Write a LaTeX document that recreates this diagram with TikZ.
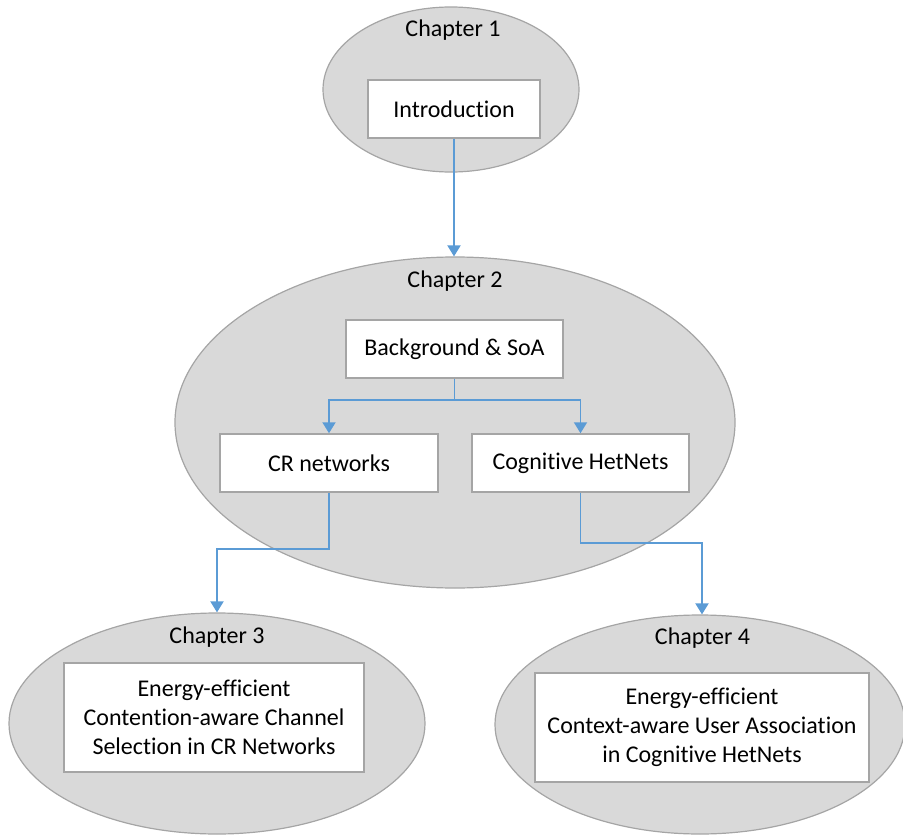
\documentclass[tikz,border=0pt]{standalone}
\usepackage{fontspec}
\setmainfont{Carlito}[Ligatures=NoCommon]
\usetikzlibrary{shapes.geometric,arrows.meta}
\definecolor{chapfill}{HTML}{D9D9D9}
\definecolor{chapline}{HTML}{A5A5A5}
\definecolor{boxline}{HTML}{A5A5A5}
\definecolor{flow}{HTML}{5B9BD5}
\begin{document}
\begin{tikzpicture}[x=1pt,y=-1pt,
  chapter/.style={ellipse, draw=chapline, line width=1.2pt, fill=chapfill, inner sep=0pt},
  chaptitle/.style={inner sep=0pt, font=\fontsize{24}{29}\selectfont},
  topic/.style={rectangle, draw=boxline, line width=1.5pt, fill=white, inner sep=0pt,
    align=center, font=\fontsize{24}{29}\selectfont},
  flowline/.style={draw=flow, line width=1.9pt, -{Triangle[width=13pt,length=11pt]}},
]
\useasboundingbox (0,0) rectangle (903,835);

% chapter ellipses
\node[chapter, minimum width=256, minimum height=165] (c1) at (451,89.5) {};
\node[chapter, minimum width=560, minimum height=331] (c2) at (455,422.5) {};
\node[chapter, minimum width=416, minimum height=221] (c3) at (217,723.5) {};
\node[chapter, minimum width=410, minimum height=219] (c4) at (700,724.5) {};

% chapter titles
\node[chaptitle] (t1) at (453,30) {Chapter 1};
\node[chaptitle] (t2) at (455,281) {Chapter 2};
\node[chaptitle] (t3) at (217,637) {Chapter 3};
\node[chaptitle] (t4) at (702.5,638) {Chapter 4};

% topic boxes
\node[topic, minimum width=172, minimum height=58] (intro) at (454,109) {Introduction};
\node[topic, minimum width=217, minimum height=58] (bg) at (454.5,349) {Background \& SoA};
\node[topic, minimum width=218, minimum height=58] (cr) at (329,463) {CR networks};
\node[topic, minimum width=217, minimum height=58] (cog) at (580.5,463) {Cognitive HetNets};
\node[topic, minimum width=300, minimum height=109] (b3) at (214,717.5)
  {Energy-efficient\\Contention-aware Channel\\Selection in CR Networks};
\node[topic, minimum width=334, minimum height=109] (b4) at (702,727.5)
  {Energy-efficient\\Context-aware User Association\\in Cognitive HetNets};

% connectors
\draw[flowline] (intro.south) -- (intro.south |- c2.north);
\draw[flowline] (bg.south) -- ++(0,21) -| (cr.north);
\draw[flowline] (bg.south) -- ++(0,21) -| (cog.north);
\draw[flowline] (cr.south) -- ++(0,56) -| (c3.north);
\draw[flowline] (cog.south) -- ++(0,50) -| ([xshift=2pt]c4.north);
\end{tikzpicture}
\end{document}
